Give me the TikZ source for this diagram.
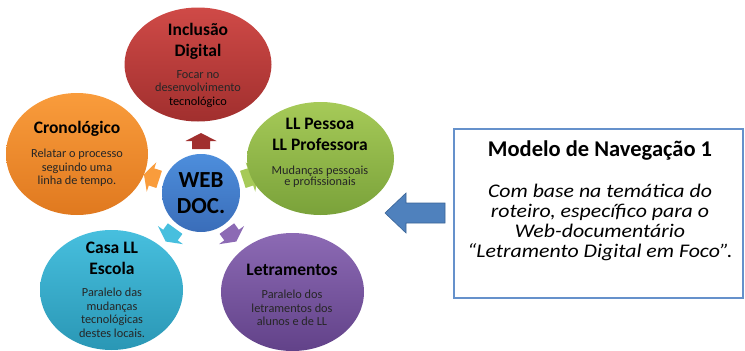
\documentclass[tikz,border=0pt]{standalone}
\usepackage{fontspec}
\setmainfont{Carlito}
\newfontfamily\navfont{Carlito}[FakeStretch=1.13]
\usetikzlibrary{shapes.geometric}
\usetikzlibrary{positioning}

\definecolor{redT}{HTML}{CF4A47}
\definecolor{redB}{HTML}{A12F2E}
\definecolor{orangeT}{HTML}{F99C3C}
\definecolor{orangeB}{HTML}{E0791F}
\definecolor{greenT}{HTML}{A6CA58}
\definecolor{greenB}{HTML}{7AA23A}
\definecolor{cyanT}{HTML}{47BFDE}
\definecolor{cyanB}{HTML}{2A97B5}
\definecolor{purpleT}{HTML}{8C6AB4}
\definecolor{purpleB}{HTML}{624289}
\definecolor{webT}{HTML}{4D8EDC}
\definecolor{webB}{HTML}{3A6DB9}
\definecolor{navBlue}{HTML}{4F81BD}
\definecolor{navDark}{HTML}{3A6496}
\definecolor{boxBlue}{HTML}{6591CB}

\begin{document}
\begin{tikzpicture}[x=1pt, y=-1pt,
        bubble/.style={ellipse, inner sep=0pt},
        ttl/.style={align=center, font=\fontsize{17.5}{21}\selectfont\bfseries},
        txt/.style={align=center, text=black!85, font=\fontsize{12.3}{13.5}\selectfont}]
            \useasboundingbox (0,0) rectangle (745,351);

            \node[circle, inner sep=0pt, minimum size=78pt, top color=webT, bottom color=webB,
                  align=center, font=\fontsize{23}{26}\selectfont\bfseries] (web) at (201,193) {WEB\\DOC.};

            \begin{scope}[shift={(web.center)}]
                \foreach \ang/\col in {90/redB, 18/greenT, 162/orangeT, 234/cyanT, 306/purpleT}
                    \fill[\col, rotate=\ang] (44,-9) -- (52,-9) -- (52,-15.5) -- (60,0)
                        -- (52,15.5) -- (52,9) -- (44,9) -- cycle;
            \end{scope}

            \node[bubble, minimum width=147pt, minimum height=114pt, top color=redT, bottom color=redB] (incl) at (198,64.5) {};
            \node[bubble, minimum width=142pt, minimum height=122pt, top color=orangeT, bottom color=orangeB] (crono) at (77,154) {};
            \node[bubble, minimum width=147pt, minimum height=113pt, top color=greenT, bottom color=greenB] (pessoa) at (320.5,158.5) {};
            \node[bubble, minimum width=143pt, minimum height=120pt, top color=cyanT, bottom color=cyanB] (casa) at (111.5,290) {};
            \node[bubble, minimum width=143pt, minimum height=118pt, top color=purpleT, bottom color=purpleB] (letra) at (292.5,292) {};

            \node[ttl] (inclT) at (198,41.5) {Inclusão\\Digital};
            \node[txt] (inclB) at (198,89) {Focar no\\desenvolvimento\\{\color{black}tecnológico}};
            \node[ttl] (cronoT) at (77,129) {Cronológico};
            \node[txt] (cronoB) at (77,168) {Relatar o processo\\seguindo uma\\linha de tempo.};
            \node[ttl] (pessoaT) at (320,134) {LL Pessoa\\LL Professora};
            \node[txt, font=\fontsize{12.3}{11.5}\selectfont] (pessoaB) at (320,176.5) {Mudanças pessoais\\e profissionais};
            \node[ttl] (casaT) at (112,258.5) {Casa LL\\Escola};
            \node[txt] (casaB) at (112,313) {Paralelo das\\mudanças\\tecnológicas\\destes locais.};
            \node[ttl] (letraT) at (292,270) {Letramentos};
            \node[txt] (letraB) at (292,308) {Paralelo dos\\letramentos dos\\alunos e de LL};

            \node[draw=boxBlue, line width=2pt, minimum width=289pt, minimum height=169pt] (model) at (598.5,213.5) {};
            \node[font=\fontsize{22.5}{25}\selectfont\bfseries] (modelT) at (600,151) {Modelo de Navegação 1};
            \node[align=center, font=\navfont\fontsize{19.3}{20}\selectfont\itshape] (modelB) at (600,222)
                {Com base na temática do\\roteiro, específico para o\\Web-documentário\\“Letramento Digital em Foco”.};

            \fill[navBlue, draw=navDark, line width=0.6pt] (445,203) -- (406,203) -- (406,193) -- (385,213)
                -- (406,233) -- (406,223) -- (445,223) -- cycle;
        \end{tikzpicture}
\end{document}
